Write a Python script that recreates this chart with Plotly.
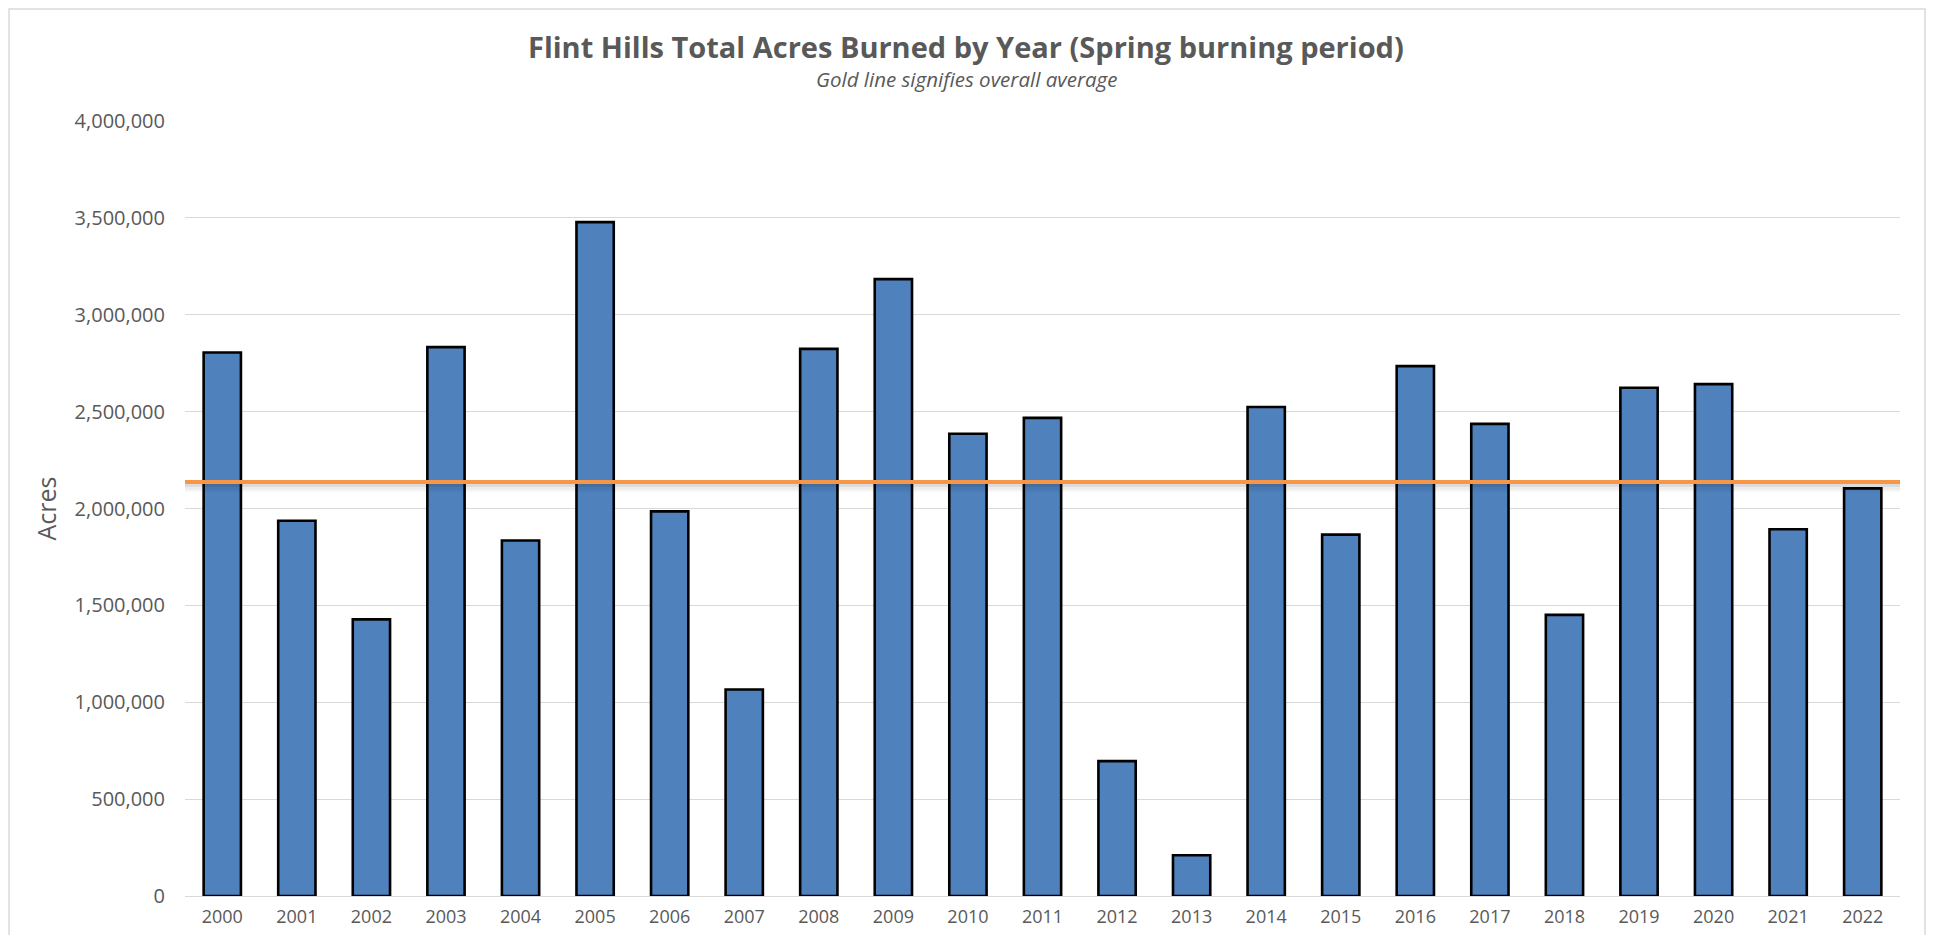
import plotly.graph_objects as go

# ---- data ----
years = [str(y) for y in range(2000, 2023)]
acres = [2805000, 1937000, 1428000, 2833000, 1835000, 3478000, 1985000, 1066000,
         2824000, 3184000, 2386000, 2468000, 696000, 210000, 2524000, 1865000,
         2735000, 2437000, 1451000, 2623000, 2642000, 1893000, 2104000]
average_acres = 2137000
y_ticks = [0, 500000, 1000000, 1500000, 2000000, 2500000, 3000000, 3500000, 4000000]

title_text = "Flint Hills Total Acres Burned by Year (Spring burning period)"
subtitle_text = "Gold line signifies overall average"

TEXT = "#595959"
GRID = "#d9d9d9"
FONT = "Open Sans"

fig = go.Figure()
fig.add_trace(go.Bar(
    x=years, y=acres,
    marker=dict(color="#4F81BD", line=dict(color="#000000", width=2.6)),
    hoverinfo="x+y",
))

# shadow under the average line (pixel-sized offsets)
for off0, off1, alpha in [(-2, -5, 0.14), (-5, -8, 0.07), (-8, -10, 0.03)]:
    fig.add_shape(type="rect", xref="paper", x0=0, x1=1,
                  yref="y", ysizemode="pixel", yanchor=average_acres,
                  y0=off0, y1=off1, fillcolor=f"rgba(0,0,0,{alpha})",
                  line=dict(width=0), layer="above")
# average line
fig.add_shape(type="line", xref="paper", x0=0, x1=1, yref="y",
              y0=average_acres, y1=average_acres,
              line=dict(color="#F79646", width=4), layer="above")

# outer chart frame
fig.add_shape(type="rect", xref="paper", yref="paper",
              x0=-0.1026, x1=1.0146, y0=-0.09, y1=1.1445,
              line=dict(color="#d9d9d9", width=1.5), fillcolor="rgba(0,0,0,0)",
              layer="below")

fig.add_annotation(text="<b>" + title_text + "</b>", xref="paper", yref="paper",
                   x=0.4554, y=1.0955, showarrow=False, xanchor="center", yanchor="middle",
                   font=dict(family=FONT, size=29, color=TEXT))
fig.add_annotation(text="<i>" + subtitle_text + "</i>", xref="paper", yref="paper",
                   x=0.4554, y=1.054, showarrow=False, xanchor="center", yanchor="middle",
                   font=dict(family=FONT, size=20.5, color=TEXT))

# page body has an 8px margin: compensate so the plot lands where the reference has it
fig.update_layout(
    width=1919, height=927,
    margin=dict(l=177, r=27, t=113, b=39, autoexpand=False),
    paper_bgcolor="white", plot_bgcolor="white",
    bargap=0.5,
    showlegend=False,
    font=dict(family=FONT, color=TEXT),
)
fig.update_xaxes(
    type="category", showgrid=False, showline=False, ticks="",
    tickfont=dict(family=FONT, size=18, color=TEXT),
    ticklabelstandoff=8,
)
fig.update_yaxes(
    range=[0, 4000000], tickvals=y_ticks, tickformat=",d",
    showgrid=True, gridcolor=GRID, gridwidth=1.3,
    zeroline=True, zerolinecolor=GRID, zerolinewidth=1.3,
    showline=False, ticks="",
    tickfont=dict(family=FONT, size=20, color=TEXT),
    ticklabelstandoff=19,
    title=dict(text="Acres", font=dict(family=FONT, size=25, color=TEXT), standoff=10),
    automargin=False,
)

fig.write_html("out.html")
